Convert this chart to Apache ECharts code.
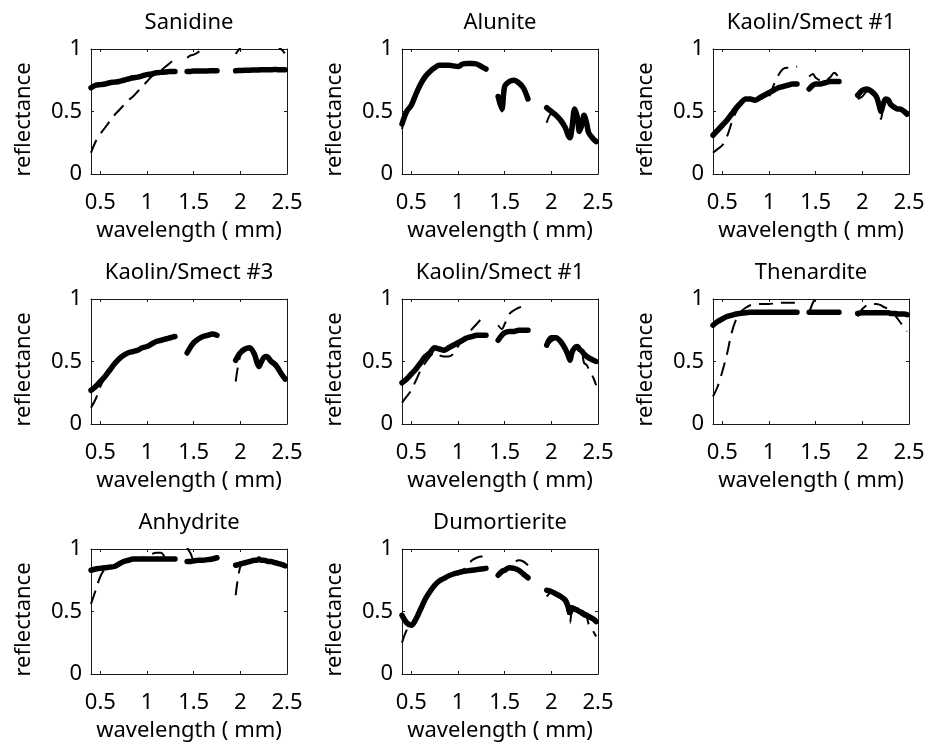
<!DOCTYPE html>
<html><head><meta charset="utf-8">
<script src="https://cdn.jsdelivr.net/npm/echarts@6/dist/echarts.min.js"></script>
<style>html,body{margin:0;padding:0;background:#fff}#c{width:929px;height:747px}</style>
</head><body><div id="c"></div>
<script>
// shared wavelength grid (null values in series = absorption-band gaps)
const wavelength = [0.40,0.45,0.50,0.55,0.60,0.65,0.70,0.75,0.80,0.85,0.90,0.95,1.00,1.05,1.10,1.15,1.20,1.25,1.30,
  1.37,
  1.43,1.47,1.50,1.55,1.60,1.65,1.70,1.75,
  1.85,
  1.95,2.00,2.05,2.10,2.15,2.18,2.20,2.22,2.25,2.28,2.30,2.33,2.35,2.38,2.40,2.45,2.48];
const xTicks = [0.5, 1, 1.5, 2, 2.5];
const yTicks = [0, 0.5, 1];
const titles = ['Sanidine','Alunite','Kaolin/Smect #1','Kaolin/Smect #3','Kaolin/Smect #1','Thenardite','Anhydrite','Dumortierite'];

const sanidineSolid = [0.69,0.71,0.715,0.72,0.73,0.735,0.74,0.75,0.76,0.77,0.775,0.785,0.795,0.80,0.81,0.813,0.816,0.82,0.82,
  null, 0.82,0.82,0.825,0.825,0.825,0.825,0.826,0.826,
  null, 0.826,0.828,0.83,0.83,0.832,0.833,0.833,0.834,0.834,0.835,0.835,0.834,0.835,0.836,0.835,0.835,0.834];
const sanidineDashed = [0.17,0.26,0.32,0.37,0.42,0.47,0.51,0.55,0.59,0.62,0.66,0.70,0.74,0.78,0.81,0.83,0.86,0.89,0.93,
  null, 0.93,0.95,0.955,0.975,1.01,1.03,1.04,1.05,
  null, 0.96,1.01,1.04,1.05,1.06,1.06,1.06,1.06,1.06,1.06,1.05,1.05,1.04,1.03,1.02,0.99,0.96];

const aluniteSolid = [0.40,0.50,0.55,0.64,0.72,0.78,0.82,0.85,0.87,0.87,0.87,0.865,0.86,0.88,0.885,0.885,0.88,0.86,0.84,
  null, 0.62,0.52,0.70,0.74,0.75,0.73,0.69,0.60,
  null, 0.53,0.50,0.47,0.43,0.37,0.31,0.29,0.36,0.52,0.45,0.34,0.40,0.47,0.40,0.33,0.28,0.26];
const aluniteDashed = [0.36,0.49,0.54,0.63,0.71,0.77,0.82,0.85,0.86,0.87,0.87,0.86,0.85,0.87,0.88,0.88,0.875,0.85,0.85,
  null, 0.58,0.50,0.68,0.73,0.74,0.72,0.68,0.61,
  null, 0.41,0.48,0.46,0.42,0.35,0.29,0.30,0.38,0.53,0.46,0.33,0.41,0.48,0.38,0.32,0.27,0.25];

const kaolin1aSolid = [0.31,0.35,0.39,0.43,0.48,0.53,0.57,0.60,0.60,0.59,0.61,0.63,0.65,0.67,0.69,0.70,0.71,0.72,0.72,
  null, 0.68,0.71,0.72,0.72,0.73,0.74,0.74,0.74,
  null, 0.63,0.67,0.68,0.66,0.62,0.55,0.50,0.55,0.60,0.59,0.56,0.54,0.53,0.52,0.52,0.50,0.48];
const kaolin1aDashed = [0.17,0.20,0.23,0.30,0.41,0.50,0.55,0.58,0.60,0.59,0.60,0.60,0.62,0.71,0.79,0.84,0.85,0.85,0.86,
  null, 0.78,0.80,0.77,0.75,0.75,0.77,0.81,0.77,
  null, 0.60,0.62,0.66,0.65,0.60,0.50,0.44,0.52,0.59,0.58,0.55,0.53,0.52,0.51,0.50,0.48,0.46];

const kaolin3Solid = [0.27,0.30,0.34,0.38,0.43,0.48,0.52,0.55,0.57,0.58,0.59,0.61,0.62,0.64,0.66,0.67,0.68,0.69,0.70,
  null, 0.57,0.62,0.65,0.68,0.70,0.71,0.72,0.71,
  null, 0.51,0.57,0.60,0.61,0.56,0.49,0.46,0.49,0.53,0.54,0.53,0.50,0.49,0.47,0.45,0.39,0.36];
const kaolin3Dashed = [0.13,0.20,0.30,0.37,0.43,0.48,0.52,0.55,0.57,0.58,0.59,0.60,0.62,0.65,0.66,0.67,0.68,0.69,0.71,
  null, 0.55,0.62,0.66,0.68,0.70,0.71,0.72,0.71,
  null, 0.34,0.55,0.60,0.61,0.56,0.48,0.45,0.50,0.53,0.53,0.52,0.50,0.48,0.46,0.44,0.38,0.35];

const kaolin1bSolid = [0.33,0.36,0.40,0.44,0.49,0.54,0.57,0.61,0.60,0.59,0.61,0.63,0.65,0.67,0.69,0.70,0.71,0.71,0.71,
  null, 0.67,0.71,0.73,0.74,0.74,0.75,0.75,0.75,
  null, 0.63,0.69,0.69,0.66,0.60,0.55,0.51,0.57,0.61,0.62,0.60,0.58,0.56,0.54,0.53,0.51,0.50];
const kaolin1bDashed = [0.17,0.22,0.27,0.35,0.43,0.49,0.54,0.57,0.55,0.54,0.54,0.56,0.62,0.68,0.72,0.76,0.80,0.84,0.86,
  null, 0.79,0.76,0.80,0.88,0.91,0.93,0.94,0.95,
  null, 0.62,0.66,0.68,0.65,0.59,0.53,0.50,0.56,0.60,0.61,0.59,0.56,0.49,0.47,0.44,0.37,0.31];

const thenarditeSolid = [0.79,0.82,0.84,0.86,0.87,0.88,0.885,0.89,0.895,0.895,0.895,0.895,0.895,0.895,0.895,0.895,0.895,0.895,0.895,
  null, 0.895,0.895,0.895,0.895,0.895,0.895,0.895,0.895,
  null, 0.885,0.89,0.89,0.89,0.89,0.89,0.89,0.89,0.89,0.89,0.885,0.885,0.885,0.88,0.88,0.88,0.875];
const thenarditeDashed = [0.22,0.30,0.42,0.56,0.73,0.84,0.90,0.93,0.95,0.955,0.96,0.96,0.96,0.965,0.97,0.97,0.97,0.97,0.97,
  null, 0.89,0.97,1.00,1.02,1.03,1.03,1.02,1.01,
  null, 0.86,0.92,0.95,0.96,0.96,0.955,0.95,0.94,0.93,0.92,0.91,0.89,0.87,0.84,0.82,0.77,0.74];

const anhydriteSolid = [0.83,0.84,0.845,0.85,0.855,0.86,0.88,0.90,0.91,0.92,0.92,0.92,0.92,0.92,0.92,0.92,0.92,0.92,0.92,
  null, 0.90,0.90,0.905,0.91,0.91,0.915,0.92,0.93,
  null, 0.87,0.88,0.89,0.90,0.91,0.91,0.92,0.91,0.91,0.905,0.90,0.90,0.895,0.89,0.885,0.875,0.865];
const anhydriteDashed = [0.56,0.67,0.78,0.84,0.85,0.86,0.88,0.90,0.91,0.92,0.92,0.93,0.94,0.96,0.97,0.97,0.93,0.92,0.92,
  null, 1.01,0.96,0.91,0.91,0.91,0.92,0.93,0.94,
  null, 0.63,0.86,0.88,0.89,0.91,0.92,0.93,0.92,0.91,0.90,0.90,0.89,0.89,0.88,0.88,0.87,0.86];

const dumortieriteSolid = [0.47,0.41,0.39,0.44,0.52,0.60,0.66,0.71,0.745,0.765,0.785,0.80,0.81,0.82,0.825,0.83,0.835,0.84,0.845,
  null, 0.79,0.82,0.83,0.85,0.845,0.83,0.80,0.77,
  null, 0.67,0.66,0.64,0.62,0.59,0.54,0.49,0.53,0.52,0.51,0.50,0.49,0.48,0.47,0.46,0.44,0.42];
const dumortieriteDashed = [0.25,0.35,0.39,0.44,0.52,0.60,0.66,0.71,0.745,0.765,0.785,0.80,0.81,0.83,0.87,0.91,0.93,0.94,0.94,
  null, 0.80,0.83,0.84,0.86,0.89,0.91,0.90,0.87,
  null, 0.62,0.65,0.63,0.61,0.57,0.48,0.41,0.50,0.51,0.49,0.48,0.47,0.46,0.45,0.40,0.34,0.30];

const solids = [sanidineSolid, aluniteSolid, kaolin1aSolid, kaolin3Solid, kaolin1bSolid, thenarditeSolid, anhydriteSolid, dumortieriteSolid];
const dasheds = [sanidineDashed, aluniteDashed, kaolin1aDashed, kaolin3Dashed, kaolin1bDashed, thenarditeDashed, anhydriteDashed, dumortieriteDashed];

const FONT = 'Noto Sans';
const FS = 22;
const lefts = [91, 402, 713], tops = [49, 299, 549], W = 196, H = 125;
const axisLineStyle = {color: '#1a1a1a', width: 1};
const txt = {fontFamily: FONT, fontSize: FS, color: '#000'};

const grid = [], xAxis = [], yAxis = [], series = [], title = [];
const toPairs = arr => wavelength.map((w, i) => [w, arr[i] == null ? '-' : arr[i]]);

titles.forEach((t, i) => {
  const col = i % 3, row = Math.floor(i / 3);
  grid.push({left: lefts[col], top: tops[row], width: W, height: H, show: false, containLabel: false});
  title.push({text: t, left: lefts[col] + W / 2, top: tops[row] - 37, textAlign: 'center', padding: 0,
    textStyle: Object.assign({fontWeight: 'normal'}, txt)});
  xAxis.push({type: 'value', gridIndex: i, position: 'bottom', min: 0.4, max: 2.5,
    axisLine: {show: true, onZero: false, lineStyle: axisLineStyle},
    axisTick: {show: true, inside: true, length: 3, customValues: xTicks, lineStyle: axisLineStyle},
    axisLabel: {show: true, customValues: xTicks, margin: 18, formatter: v => String(v), ...txt},
    splitLine: {show: false},
    name: 'wavelength ( mm)', nameLocation: 'middle', nameGap: 46, nameTextStyle: txt});
  xAxis.push({type: 'value', gridIndex: i, position: 'top', min: 0.4, max: 2.5,
    axisLine: {show: true, onZero: false, lineStyle: axisLineStyle},
    axisTick: {show: true, inside: true, length: 3, customValues: xTicks, lineStyle: axisLineStyle},
    axisLabel: {show: false}, splitLine: {show: false}});
  yAxis.push({type: 'value', gridIndex: i, position: 'left', min: 0, max: 1, interval: 0.5,
    axisLine: {show: true, onZero: false, lineStyle: axisLineStyle},
    axisTick: {show: true, inside: true, length: 3, lineStyle: axisLineStyle},
    axisLabel: {show: true, margin: 9, formatter: v => String(v), ...txt},
    splitLine: {show: false},
    name: 'reflectance', nameLocation: 'middle', nameGap: 56,
    nameTextStyle: Object.assign({padding: [0, 16, 0, 0]}, txt)});
  yAxis.push({type: 'value', gridIndex: i, position: 'right', min: 0, max: 1, interval: 0.5,
    axisLine: {show: true, onZero: false, lineStyle: axisLineStyle},
    axisTick: {show: true, inside: true, length: 3, lineStyle: axisLineStyle},
    axisLabel: {show: false}, splitLine: {show: false}});
  series.push({type: 'line', xAxisIndex: 2 * i, yAxisIndex: 2 * i, data: toPairs(dasheds[i]),
    showSymbol: false, smooth: 0.3, connectNulls: false, clip: true, silent: true,
    lineStyle: {color: '#000', width: 2, type: [14, 8]}});
  series.push({type: 'line', xAxisIndex: 2 * i, yAxisIndex: 2 * i, data: toPairs(solids[i]),
    showSymbol: false, smooth: 0.3, connectNulls: false, clip: true, silent: true,
    lineStyle: {color: '#000', width: 5.5, cap: 'round', join: 'round'}});
});

const chart = echarts.init(document.getElementById('c'), null, {renderer: 'canvas'});
chart.setOption({animation: false, backgroundColor: '#fff', title, grid, xAxis, yAxis, series});
</script>
</body></html>
